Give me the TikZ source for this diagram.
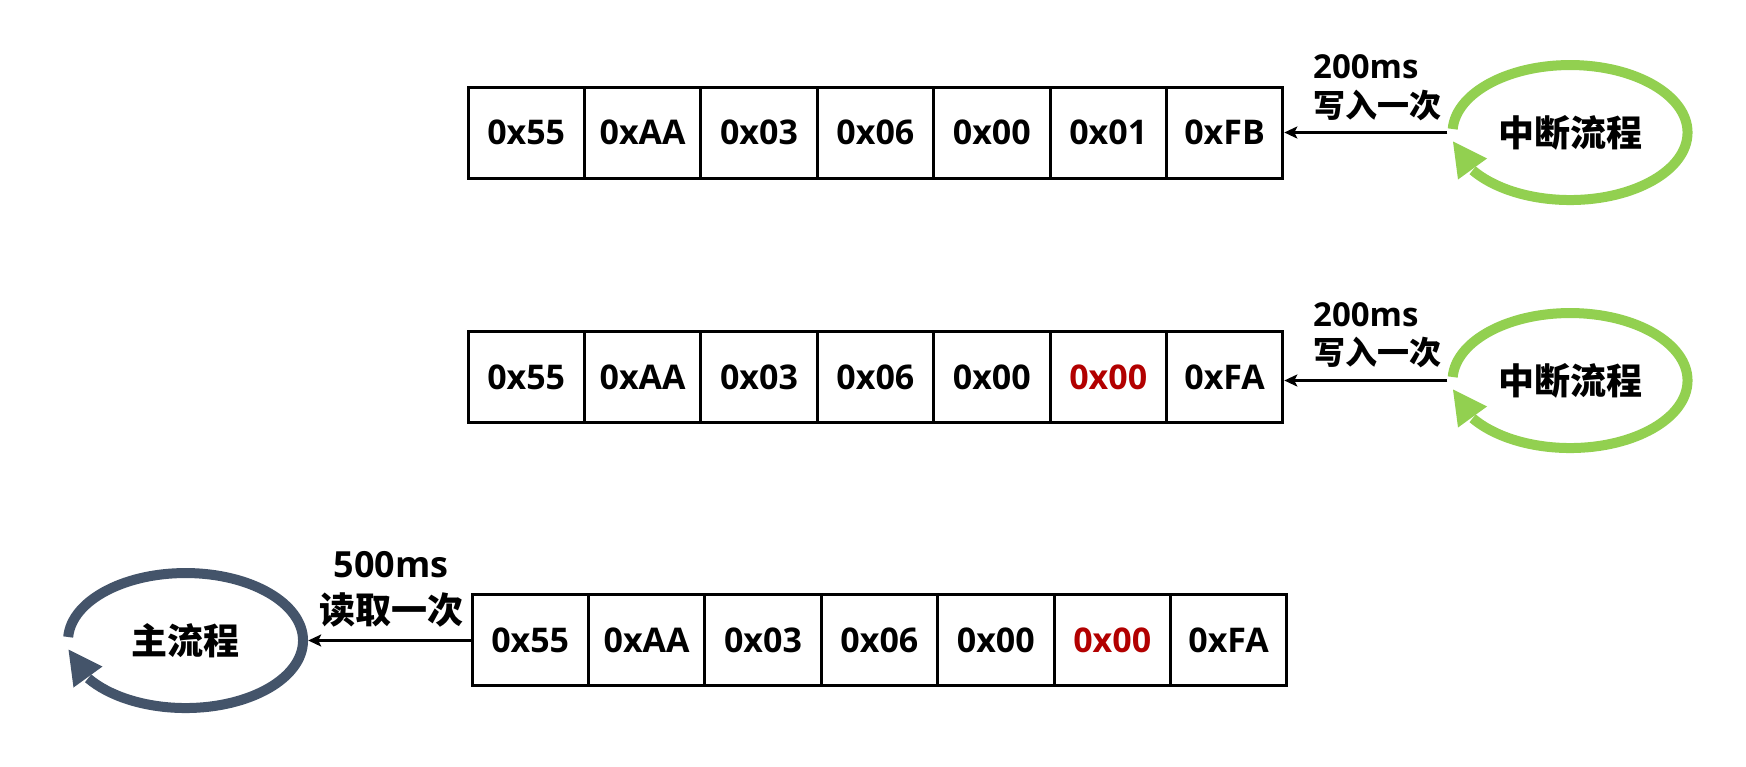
\documentclass[tikz,border=0pt]{standalone}
\usepackage{fontspec}
\setmainfont{Open Sans}
\newfontfamily\cjk{Noto Sans CJK SC}
\usetikzlibrary{shapes.geometric,arrows.meta,calc}
\definecolor{loopgreen}{RGB}{146,208,80}
\definecolor{loopslate}{RGB}{68,84,106}
\definecolor{hexred}{RGB}{178,0,0}
\begin{document}
\begin{tikzpicture}[x=1pt,y=-1pt,
  cell/.style={draw, line width=3pt, minimum width=116.4pt, minimum height=91pt, inner sep=0pt,
    font=\fontsize{34}{40}\selectfont\bfseries},
  loopshape/.style={ellipse, minimum width=245pt, minimum height=145pt, inner sep=0pt,
    font=\cjk\fontsize{36}{42}\selectfont\bfseries},
  link/.style={line width=3pt, -{Stealth[length=13pt,width=12pt,inset=3pt]}},
  ratelat/.style={inner sep=0pt, font=\fontsize{33}{40}\selectfont\bfseries},
  ratecjk/.style={inner sep=0pt, font=\cjk\fontsize{32}{40}\selectfont\bfseries},
  ratelatb/.style={inner sep=0pt, font=\fontsize{36}{42}\selectfont\bfseries},
  ratecjkb/.style={inner sep=0pt, font=\cjk\fontsize{36}{42}\selectfont\bfseries},
]
\useasboundingbox (0,0) rectangle (1746,766);
\fill[white] (0,0) rectangle (1746,766);

% row 1
\foreach \t [count=\i] in {0x55,0xAA,0x03,0x06,0x00,0x01,0xFB}
  \node[cell] (r1c\i) at ({468+116.4*(\i-0.5)},132.5) {\t};
% row 2
\foreach \t [count=\i] in {0x55,0xAA,0x03,0x06,0x00,{\textcolor{hexred}{0x00}},0xFA}
  \node[cell] (r2c\i) at ({468+116.4*(\i-0.5)},377) {\t};
% row 3
\foreach \t [count=\i] in {0x55,0xAA,0x03,0x06,0x00,{\textcolor{hexred}{0x00}},0xFA}
  \node[cell] (r3c\i) at ({472+116.4*(\i-0.5)},640) {\t};

% loops
\node[loopshape] (e1) at (1570,132.5) {中断流程};
\node[loopshape] (e2) at (1570,380.5) {中断流程};
\node[loopshape] (m) at (185.5,640.5) {主流程};

\foreach \e/\c in {e1/loopgreen, e2/loopgreen, m/loopslate}{
  \draw[\c, line width=10pt] ($(\e.center)+(-117.3,-3.5)$)
     arc[start angle=177, end angle=-146, x radius=117.5pt, y radius=67.5pt];
  \fill[\c] ($(\e.center)+(-117,9)$) -- ($(\e.center)+(-112,47)$) -- ($(\e.center)+(-83,26)$) -- cycle;
}

% connectors
\draw[link] (e1.west) -- (e1.west -| r1c7.east);
\draw[link] (e2.west) -- (e2.west -| r2c7.east);
\draw[link] (r3c1.west |- m.east) -- (m.east);

% labels
\node[ratelat, anchor=west] (t1a) at (1313,67) {200ms};
\node[ratecjk, anchor=west] (t1b) at (1313,105) {写入一次};
\node[ratelat, anchor=west] (t2a) at (1313,315) {200ms};
\node[ratecjk, anchor=west] (t2b) at (1313,352.5) {写入一次};
\node[ratelatb] (t3a) at (391,565) {500ms};
\node[ratecjkb] (t3b) at (391,610) {读取一次};
\end{tikzpicture}
\end{document}
